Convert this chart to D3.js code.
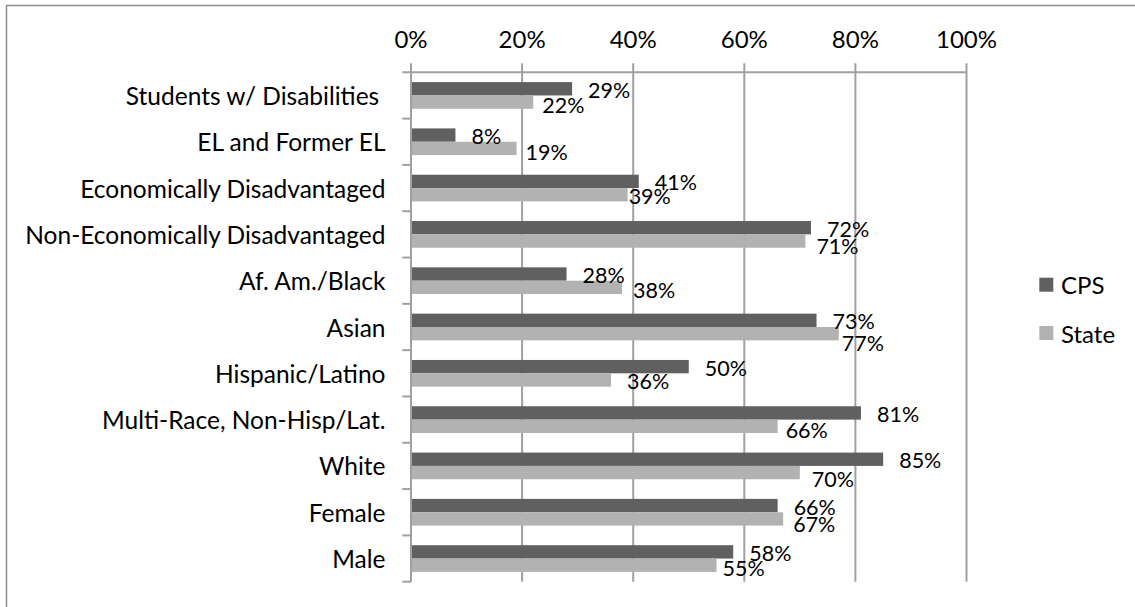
<!DOCTYPE html>
<html>
<head>
<meta charset="utf-8">
<script src="https://cdn.jsdelivr.net/npm/d3@7"></script>
<style>
  html, body { margin: 0; padding: 0; background: #fff; }
  svg { display: block; }
  text { font-family: Lato, "Open Sans", sans-serif; fill: #000; }
</style>
</head>
<body>
<svg id="chart" width="1135" height="607"></svg>
<script>
// ---- data ----
const categories = [
  "Students w/ Disabilities ",
  "EL and Former EL",
  "Economically Disadvantaged",
  "Non-Economically Disadvantaged",
  "Af. Am./Black",
  "Asian",
  "Hispanic/Latino",
  "Multi-Race, Non-Hisp/Lat.",
  "White",
  "Female",
  "Male"
];
const seriesNames = ["CPS", "State"];
const cpsValues   = [29, 8, 41, 72, 28, 73, 50, 81, 85, 66, 58];
const stateValues = [22, 19, 39, 71, 38, 77, 36, 66, 70, 67, 55];
const xTicks = [0, 20, 40, 60, 80, 100];

// label nudges (manual placement in the original)
const stateLabelDx = [9, 9, 1, 11, 11, 3, 16, 8, 12, 10, 6];
const stateLabelDy = [3, 4, 1, 5, 3, 9, 1, 4, 6, 5, 3];

// ---- layout ----
const colors = { CPS: "#606060", State: "#b2b2b2" };
const svg = d3.select("#chart");

// outer border (only top/left visible in the crop)
svg.append("rect")
  .attr("x", 6.5).attr("y", 5.5)
  .attr("width", 1200).attr("height", 700)
  .attr("fill", "none").attr("stroke", "#8e8e8e").attr("stroke-width", 1.5);

const x = d3.scaleLinear().domain([0, 100]).range([411, 966.5]);
const y = d3.scaleBand().domain(categories).range([72.3, 581.7]).padding(0);
const ySub = d3.scaleBand().domain(seriesNames).range([0, y.step()])
  .paddingInner(0).paddingOuter(0.734);

const gridColor = "#a0a0a0";

// vertical grid lines + top tick marks
svg.append("g").selectAll("line").data(xTicks).join("line")
  .attr("x1", d => x(d)).attr("x2", d => x(d))
  .attr("y1", 63.3).attr("y2", 581.7)
  .attr("stroke", gridColor).attr("stroke-width", 2);

// top axis line
svg.append("line")
  .attr("x1", 402.3).attr("x2", x(100))
  .attr("y1", 72.3).attr("y2", 72.3)
  .attr("stroke", gridColor).attr("stroke-width", 2);

// category tick marks on left axis
const boundaries = categories.map(c => y(c) + y.step());
svg.append("g").selectAll("line").data(boundaries).join("line")
  .attr("x1", 402.3).attr("x2", x(0))
  .attr("y1", d => d).attr("y2", d => d)
  .attr("stroke", gridColor).attr("stroke-width", 2);

// top tick labels
svg.append("g").selectAll("text").data(xTicks).join("text")
  .attr("x", d => x(d)).attr("y", 38)
  .attr("text-anchor", "middle").attr("dominant-baseline", "central")
  .attr("font-size", 24)
  .text(d => d + "%");

// category labels
svg.append("g").selectAll("text").data(categories).join("text")
  .attr("x", 385.5).attr("y", d => y(d) + y.step() / 2)
  .attr("text-anchor", "end").attr("dominant-baseline", "central")
  .attr("font-size", 24.5)
  .attr("xml:space", "preserve")
  .style("white-space", "pre")
  .text(d => d);

// bars
const rows = categories.map((c, i) => ({ c, i, CPS: cpsValues[i], State: stateValues[i] }));
const barG = svg.append("g");
seriesNames.forEach(s => {
  barG.selectAll("rect." + s).data(rows).join("rect")
    .attr("class", s)
    .attr("x", x(0) + 1)
    .attr("y", d => y(d.c) + ySub(s))
    .attr("width", d => Math.max(0, x(d[s]) - x(0) - 1))
    .attr("height", ySub.bandwidth())
    .attr("fill", colors[s]);
});

// value labels
const labG = svg.append("g");
labG.selectAll("text.cps").data(rows).join("text")
  .attr("class", "cps")
  .attr("x", d => x(d.CPS) + 16)
  .attr("y", d => y(d.c) + ySub("CPS") + ySub.bandwidth() / 2 + 1)
  .attr("dominant-baseline", "central")
  .attr("font-size", 21.5)
  .text(d => d.CPS + "%");
labG.selectAll("text.state").data(rows).join("text")
  .attr("class", "state")
  .attr("x", d => x(d.State) + stateLabelDx[d.i])
  .attr("y", d => y(d.c) + ySub("State") + ySub.bandwidth() / 2 + stateLabelDy[d.i])
  .attr("dominant-baseline", "central")
  .attr("font-size", 21.5)
  .text(d => d.State + "%");

// legend
const legend = svg.append("g");
const legendY = [284.7, 333];
seriesNames.forEach((s, k) => {
  legend.append("rect")
    .attr("x", 1039.3).attr("y", legendY[k] - 7)
    .attr("width", 14).attr("height", 14)
    .attr("fill", colors[s]);
  legend.append("text")
    .attr("x", 1061).attr("y", legendY[k])
    .attr("dominant-baseline", "central")
    .attr("font-size", 24)
    .text(s);
});
</script>
</body>
</html>
